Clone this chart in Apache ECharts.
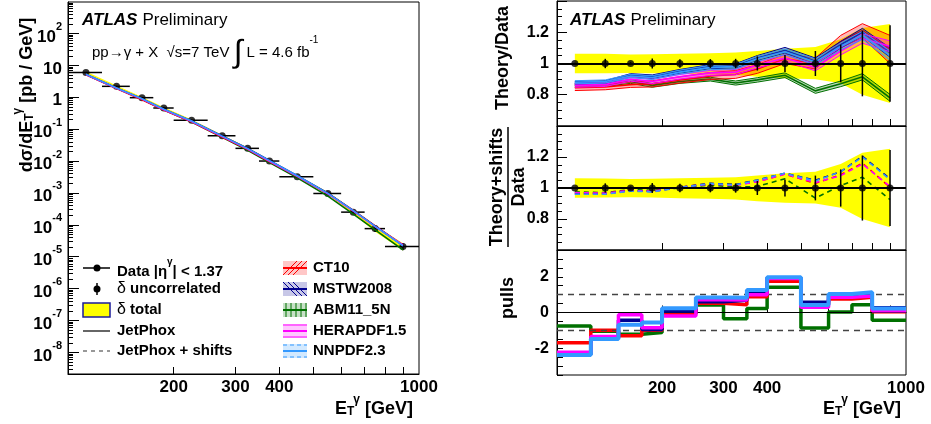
<!DOCTYPE html>
<html>
<head>
<meta charset="utf-8">
<script src="https://cdn.jsdelivr.net/npm/echarts@6/dist/echarts.min.js"></script>
<style>
  html, body { margin: 0; padding: 0; background: #fff; }
  #chart { width: 931px; height: 424px; }
</style>
</head>
<body>
<div id="chart"></div>
<script>
// E_T^gamma bins [GeV]
const binEdges = [100, 125, 150, 175, 200, 250, 300, 350, 400, 500, 600, 700, 800, 1000];
const binCenters = [112.5, 137.5, 162.5, 187.5, 225, 275, 325, 375, 450, 550, 650, 750, 900];
// measured dsigma/dET [pb/GeV]
const xsecData = [6.0, 2.2, 0.97, 0.46, 0.19, 0.062, 0.025, 0.010, 0.0032, 0.00096, 0.00025, 7.6e-5, 2.1e-5];
// relative uncertainties
const uncorrErr = [0.005, 0.03, 0.01, 0.032, 0.027, 0.028, 0.03, 0.045, 0.055, 0.08, 0.12, 0.21, 0.245];
const totalErrUp = [0.063, 0.062, 0.058, 0.06, 0.063, 0.066, 0.07, 0.08, 0.095, 0.105, 0.155, 0.228, 0.253];
const totalErrDown = [0.063, 0.062, 0.06, 0.062, 0.066, 0.07, 0.074, 0.085, 0.095, 0.1, 0.127, 0.2, 0.253];

// theory / data (JetPhox with each PDF) and PDF band half widths
const ratioCT10 = [0.845, 0.85, 0.865, 0.87, 0.895, 0.92, 0.93, 0.965, 1.03, 1.0, 1.14, 1.21, 1.09];
const ratioMSTW = [0.875, 0.88, 0.925, 0.915, 0.95, 0.98, 0.985, 1.035, 1.085, 1.015, 1.12, 1.2, 1.07];
const ratioABM = [0.86, 0.865, 0.885, 0.86, 0.885, 0.9, 0.875, 0.895, 0.925, 0.825, 0.87, 0.915, 0.78];
const ratioHERA = [0.86, 0.865, 0.9, 0.885, 0.915, 0.94, 0.945, 0.99, 1.035, 0.975, 1.08, 1.16, 1.11];
const ratioNNPDF = [0.88, 0.885, 0.92, 0.91, 0.945, 0.975, 0.98, 1.03, 1.075, 1.01, 1.11, 1.18, 1.05];
const errCT10 = [0.018, 0.018, 0.018, 0.02, 0.02, 0.022, 0.025, 0.028, 0.03, 0.035, 0.04, 0.045, 0.09];
const errMSTW = [0.01, 0.01, 0.01, 0.012, 0.012, 0.013, 0.014, 0.016, 0.018, 0.02, 0.022, 0.025, 0.03];
const errABM = [0.012, 0.012, 0.012, 0.012, 0.012, 0.012, 0.013, 0.014, 0.015, 0.016, 0.018, 0.02, 0.022];
const errHERA = [0.012, 0.012, 0.013, 0.014, 0.015, 0.016, 0.017, 0.018, 0.02, 0.022, 0.025, 0.03, 0.035];
const errNNPDF = [0.01, 0.01, 0.011, 0.012, 0.013, 0.014, 0.015, 0.016, 0.018, 0.02, 0.022, 0.026, 0.03];

// (theory + shifts) / data
const shiftCT10 = [0.968, 0.965, 0.985, 0.978, 1.005, 1.028, 1.02, 1.04, 1.09, 1.03, 1.085, 1.16, 1.005];
const shiftMSTW = [0.962, 0.962, 0.983, 0.977, 1.005, 1.03, 1.022, 1.052, 1.095, 1.05, 1.105, 1.205, 1.06];
const shiftABM = [0.975, 0.97, 0.99, 0.985, 1.0, 1.02, 1.005, 1.01, 1.06, 0.935, 1.015, 1.07, 0.925];
const shiftHERA = [0.97, 0.967, 0.985, 0.978, 1.005, 1.025, 1.018, 1.04, 1.09, 1.035, 1.08, 1.155, 1.01];
const shiftNNPDF = [0.96, 0.96, 0.98, 0.975, 1.003, 1.028, 1.02, 1.05, 1.095, 1.045, 1.105, 1.2, 1.055];

// pulls
const pullCT10 = [-1.7, -1.0, -1.3, -1.0, -0.08, 0.52, 0.43, 0.88, 1.75, 0.48, 0.75, 0.86, 0.04];
const pullMSTW = [-2.35, -1.42, -0.44, -0.95, 0.09, 0.6, 0.68, 1.1, 1.95, 0.58, 0.95, 1.04, 0.26];
const pullABM = [-0.75, -1.05, -1.22, -1.12, -0.05, 0.42, -0.35, 0.22, 1.42, -0.87, 0.03, 0.44, -0.44];
const pullHERA = [-2.22, -1.35, -0.12, -0.85, -0.19, 0.72, 0.7, 1.0, 1.9, 0.3, 0.85, 0.92, 0.1];
const pullNNPDF = [-2.38, -1.48, -0.69, -0.56, 0.24, 0.84, 0.82, 1.26, 1.98, 0.42, 1.03, 1.13, 0.22];

// axis ticks
const xLabelValues = [200, 300, 400, 1000];
const xTickValues = [200, 300, 400, 500, 600, 700, 800, 900];
const yDecades = [1e-8, 1e-7, 1e-6, 1e-5, 1e-4, 1e-3, 1e-2, 1e-1, 1, 10, 100];
const ratioLabels = [0.8, 1, 1.2];
const pullLabels = [-2, 0, 2];

const FONT = '"Liberation Sans", Arial, Helvetica, sans-serif';
const C_CT10 = '#ff0000', C_MSTW = '#000090', C_ABM = '#007000', C_HERA = '#ff00ff', C_NNPDF = '#3399ff';
const YELLOW = '#ffff00';

const pdfs = [
  { name: 'ABM11_5N', color: C_ABM, ratio: ratioABM, err: errABM, shift: shiftABM, pull: pullABM },
  { name: 'CT10', color: C_CT10, ratio: ratioCT10, err: errCT10, shift: shiftCT10, pull: pullCT10 },
  { name: 'MSTW2008', color: C_MSTW, ratio: ratioMSTW, err: errMSTW, shift: shiftMSTW, pull: pullMSTW },
  { name: 'HERAPDF1.5', color: C_HERA, ratio: ratioHERA, err: errHERA, shift: shiftHERA, pull: pullHERA },
  { name: 'NNPDF2.3', color: C_NNPDF, ratio: ratioNNPDF, err: errNNPDF, shift: shiftNNPDF, pull: pullNNPDF }
];

// minor ticks of the log y axis (2..9 x 10^n)
const yMinorTicks = [];
for (let n = -9; n <= 2; n++) {
  for (let k = 2; k <= 9; k++) yMinorTicks.push(k * Math.pow(10, n));
}

const chart = echarts.init(document.getElementById('chart'));

const gridsDef = [
  { left: 68, top: 2, width: 351, height: 372 },
  { left: 557, top: 1, width: 349, height: 125 },
  { left: 557, top: 126, width: 349, height: 124 },
  { left: 557, top: 250, width: 349, height: 125 }
];

const supRich = {
  b: { fontSize: 17, fontWeight: 'bold', fontFamily: FONT, color: '#000', lineHeight: 24, verticalAlign: 'bottom' },
  sup: { fontSize: 11, fontWeight: 'bold', fontFamily: FONT, color: '#000', lineHeight: 12, verticalAlign: 'top' }
};

function powLabel(v) {
  const n = Math.round(Math.log10(v));
  if (n === 0) return '{b|1}';
  if (n === 1) return '{b|10}';
  return '{b|10}{sup|' + n + '}';
}

function xLog(gridIndex, showLabels) {
  return {
    type: 'log', logBase: 10, gridIndex: gridIndex, min: 100, max: 1000,
    axisLine: { show: true, lineStyle: { color: '#000', width: 1 } },
    axisTick: { show: true, inside: true, length: 7, customValues: xTickValues, lineStyle: { color: '#000' } },
    axisLabel: {
      show: showLabels, customValues: xLabelValues, formatter: v => String(Math.round(v)),
      color: '#000', fontSize: 17, fontWeight: 'bold', fontFamily: FONT, margin: 5
    },
    splitLine: { show: false }
  };
}

function ratioAxis(gridIndex) {
  return {
    type: 'value', gridIndex: gridIndex, min: 0.6, max: 1.4, interval: 0.2,
    axisLine: { show: true, lineStyle: { color: '#000' } },
    axisTick: { show: true, inside: true, length: 10, lineStyle: { color: '#000' } },
    minorTick: { show: true, splitNumber: 4, length: 5, lineStyle: { color: '#000' } },
    axisLabel: { customValues: ratioLabels, color: '#000', fontSize: 16, fontWeight: 'bold', fontFamily: FONT, margin: 8 },
    splitLine: { show: false }
  };
}

// vertical error bars [x, lo, hi]
function renderErrY(params, api) {
  const x = api.value(0);
  const p1 = api.coord([x, api.value(1)]);
  const p2 = api.coord([x, api.value(2)]);
  return { type: 'line', shape: { x1: p1[0], y1: p1[1], x2: p2[0], y2: p2[1] }, style: { stroke: '#000', lineWidth: 1.5 } };
}
// horizontal bin-width bars [xlo, xhi, y]
function renderErrX(params, api) {
  const y = api.value(2);
  const p1 = api.coord([api.value(0), y]);
  const p2 = api.coord([api.value(1), y]);
  return { type: 'line', shape: { x1: p1[0], y1: p1[1], x2: p2[0], y2: p2[1] }, style: { stroke: '#000', lineWidth: 1.5 } };
}
// filled band polygon [x, lo, hi] drawn once
function makeBand(fill) {
  return function (params, api) {
    if (params.dataIndexInside !== 0) return null;
    const n = params.dataInsideLength;
    const lo = [], hi = [];
    for (let i = 0; i < n; i++) {
      const x = api.value(0, i);
      lo.push(api.coord([x, api.value(1, i)]));
      hi.push(api.coord([x, api.value(2, i)]));
    }
    return { type: 'polygon', shape: { points: lo.concat(hi.reverse()) }, style: { fill: fill, stroke: null } };
  };
}
// PDF uncertainty band [x, mid, lo, hi]: light fill + edges + central line
function makePdfBand(color) {
  return function (params, api) {
    if (params.dataIndexInside !== 0) return null;
    const n = params.dataInsideLength;
    const mid = [], lo = [], hi = [];
    for (let i = 0; i < n; i++) {
      const x = api.value(0, i);
      mid.push(api.coord([x, api.value(1, i)]));
      lo.push(api.coord([x, api.value(2, i)]));
      hi.push(api.coord([x, api.value(3, i)]));
    }
    return {
      type: 'group',
      children: [
        { type: 'polygon', shape: { points: lo.concat(hi.slice().reverse()) }, style: { fill: color, opacity: 0.28, stroke: null } },
        { type: 'polyline', shape: { points: lo }, style: { stroke: color, lineWidth: 1, fill: null } },
        { type: 'polyline', shape: { points: hi }, style: { stroke: color, lineWidth: 1, fill: null } },
        { type: 'polyline', shape: { points: mid }, style: { stroke: color, lineWidth: 1.6, fill: null } }
      ]
    };
  };
}

const series = [];

// ---- main cross-section panel ----
series.push({
  type: 'custom', xAxisIndex: 0, yAxisIndex: 0, z: 1,
  renderItem: makeBand(YELLOW),
  data: binCenters.map((c, i) => [c, xsecData[i] * (1 - totalErrDown[i]), xsecData[i] * (1 + totalErrUp[i])])
});
series.push({
  type: 'custom', xAxisIndex: 0, yAxisIndex: 0, z: 3,
  renderItem: renderErrX,
  encode: { x: [0, 1], y: 2 },
  data: binCenters.map((c, i) => [binEdges[i], binEdges[i + 1], xsecData[i]])
});
series.push({
  type: 'custom', xAxisIndex: 0, yAxisIndex: 0, z: 3,
  renderItem: renderErrY,
  encode: { x: 0, y: [1, 2] },
  data: binCenters.map((c, i) => [c, xsecData[i] * (1 - uncorrErr[i]), xsecData[i] * (1 + uncorrErr[i])])
});
series.push({
  type: 'scatter', name: 'Data', xAxisIndex: 0, yAxisIndex: 0, z: 4,
  symbol: 'circle', symbolSize: 7, itemStyle: { color: '#000' },
  data: binCenters.map((c, i) => [c, xsecData[i]])
});
pdfs.forEach(p => {
  series.push({
    type: 'line', name: p.name, xAxisIndex: 0, yAxisIndex: 0, z: 5,
    showSymbol: false, lineStyle: { color: p.color, width: 1.6 },
    data: binCenters.map((c, i) => [c, xsecData[i] * p.ratio[i]])
  });
});

// ---- theory / data panel ----
series.push({
  type: 'custom', xAxisIndex: 1, yAxisIndex: 2, z: 1,
  renderItem: makeBand(YELLOW),
  data: binCenters.map((c, i) => [c, 1 - totalErrDown[i], 1 + totalErrUp[i]])
});
pdfs.forEach(p => {
  series.push({
    type: 'custom', name: p.name + ' band', xAxisIndex: 1, yAxisIndex: 2, z: 2,
    renderItem: makePdfBand(p.color),
    data: binCenters.map((c, i) => [c, p.ratio[i], p.ratio[i] - p.err[i], p.ratio[i] + p.err[i]])
  });
});
[[1, 2], [2, 3]].forEach(([xi, yi]) => {
  series.push({
    type: 'custom', xAxisIndex: xi, yAxisIndex: yi, z: 4,
    renderItem: renderErrY,
    encode: { x: 0, y: [1, 2] },
    data: binCenters.map((c, i) => [c, 1 - uncorrErr[i], 1 + uncorrErr[i]])
  });
  series.push({
    type: 'scatter', xAxisIndex: xi, yAxisIndex: yi, z: 5,
    symbol: 'circle', symbolSize: 7, itemStyle: { color: '#000' },
    data: binCenters.map(c => [c, 1]),
    markLine: {
      silent: true, symbol: ['none', 'none'], label: { show: false },
      lineStyle: { color: '#000', width: 2.2, type: 'solid' },
      data: [{ yAxis: 1 }]
    }
  });
});

// ---- theory + shifts / data panel ----
series.push({
  type: 'custom', xAxisIndex: 2, yAxisIndex: 3, z: 1,
  renderItem: makeBand(YELLOW),
  data: binCenters.map((c, i) => [c, 1 - totalErrDown[i], 1 + totalErrUp[i]])
});
pdfs.forEach(p => {
  series.push({
    type: 'line', name: p.name + ' shifts', xAxisIndex: 2, yAxisIndex: 3, z: 3,
    showSymbol: false, lineStyle: { color: p.color, width: 1.6, type: [5, 4] },
    data: binCenters.map((c, i) => [c, p.shift[i]])
  });
});

// ---- pulls panel ----
pdfs.forEach((p, k) => {
  const pts = binCenters.map((c, i) => [binEdges[i], p.pull[i]]);
  pts.push([binEdges[binEdges.length - 1], p.pull[p.pull.length - 1]]);
  const s = {
    type: 'line', name: p.name + ' pulls', xAxisIndex: 3, yAxisIndex: 4, z: 3 + k,
    step: 'end', showSymbol: false,
    lineStyle: { color: p.color, width: k === 4 ? 4 : 3.5 },
    data: pts
  };
  if (k === 0) {
    s.markLine = {
      silent: true, symbol: ['none', 'none'], label: { show: false },
      data: [
        { yAxis: 0, lineStyle: { color: '#000', width: 1, type: 'solid' } },
        { yAxis: 1, lineStyle: { color: '#444', width: 1.3, type: [6, 5] } },
        { yAxis: -1, lineStyle: { color: '#444', width: 1.3, type: [6, 5] } }
      ]
    };
  }
  series.push(s);
});

// ---- texts & legend ----
const richBase = {
  b: { fontSize: 18, fontWeight: 'bold', fontFamily: FONT, fill: '#000', lineHeight: 24, verticalAlign: 'bottom' },
  sub: { fontSize: 12, fontWeight: 'bold', fontFamily: FONT, fill: '#000', lineHeight: 12, verticalAlign: 'bottom' },
  sup: { fontSize: 12, fontWeight: 'bold', fontFamily: FONT, fill: '#000', lineHeight: 14, verticalAlign: 'top', padding: [0, 0, 0, -1] }
};
const atlasRich = {
  a: { fontSize: 17, fontWeight: 'bold', fontStyle: 'italic', fontFamily: FONT, fill: '#000' },
  p: { fontSize: 17, fontFamily: FONT, fill: '#000', padding: [0, 0, 0, 5] }
};

function rtext(x, y, text, rich, extra) {
  return Object.assign({
    type: 'text', x: x, y: y, silent: true,
    style: { text: text, rich: rich, align: 'left', verticalAlign: 'middle', fill: '#000' }
  }, extra || {});
}
function ptext(x, y, text, font, extra) {
  return Object.assign({
    type: 'text', x: x, y: y, silent: true,
    style: { text: text, font: font, align: 'left', verticalAlign: 'middle', fill: '#000' }
  }, extra || {});
}
function vtext(x, y, text, size) {
  return {
    type: 'text', x: x, y: y, silent: true, rotation: Math.PI / 2,
    style: { text: text, font: 'bold ' + size + 'px ' + FONT, align: 'center', verticalAlign: 'middle', fill: '#000' }
  };
}

const legFont = 'bold 15px ' + FONT;
const legRows = [268, 289, 310, 331, 351];
const graphic = [];

// atlas labels
graphic.push(rtext(82, 20, '{a|ATLAS}{p|Preliminary}', atlasRich));
graphic.push(rtext(570, 20, '{a|ATLAS}{p|Preliminary}', atlasRich));
graphic.push(rtext(92, 53, '{n|pp→γ + X  √s=7 TeV }{i|∫}{n| L = 4.6 fb}{s|-1}', {
  n: { fontSize: 15, fontFamily: FONT, fill: '#000', lineHeight: 36, verticalAlign: 'middle' },
  i: { fontSize: 32, fontFamily: FONT, fill: '#000', lineHeight: 36, verticalAlign: 'middle' },
  s: { fontSize: 10, fontFamily: FONT, fill: '#000', lineHeight: 22, verticalAlign: 'top' }
}));

// axis titles
graphic.push({
  type: 'text', x: 24, y: 95, silent: true, rotation: Math.PI / 2,
  style: { text: '{b|dσ/dE}{sub|T}{sup|γ}{b| [pb / GeV]}', rich: richBase, align: 'center', verticalAlign: 'middle', fill: '#000' }
});
graphic.push(rtext(335, 406, '{b|E}{sub|T}{sup|γ}{b| [GeV]}', richBase));
graphic.push(rtext(823, 406, '{b|E}{sub|T}{sup|γ}{b| [GeV]}', richBase));
graphic.push(vtext(503, 58, 'Theory/Data', 18));
graphic.push(vtext(497, 187, 'Theory+shifts', 18));
graphic.push(vtext(519, 187, 'Data', 18));
graphic.push({ type: 'line', silent: true, shape: { x1: 508, y1: 127, x2: 508, y2: 247 }, style: { stroke: '#000', lineWidth: 1.5 } });
graphic.push(vtext(508, 298, 'pulls', 18));

// legend, left column
graphic.push({ type: 'line', silent: true, shape: { x1: 83, y1: legRows[0], x2: 110, y2: legRows[0] }, style: { stroke: '#000', lineWidth: 1.5 } });
graphic.push({ type: 'circle', silent: true, shape: { cx: 97, cy: legRows[0], r: 3.5 }, style: { fill: '#000' } });
graphic.push({ type: 'line', silent: true, shape: { x1: 97, y1: legRows[1] - 6, x2: 97, y2: legRows[1] + 6 }, style: { stroke: '#000', lineWidth: 1.5 } });
graphic.push({ type: 'circle', silent: true, shape: { cx: 97, cy: legRows[1], r: 3.5 }, style: { fill: '#000' } });
graphic.push({ type: 'rect', silent: true, shape: { x: 83, y: legRows[2] - 7, width: 27, height: 14 }, style: { fill: YELLOW, stroke: '#1c1c9c', lineWidth: 1.5 } });
graphic.push({ type: 'line', silent: true, shape: { x1: 83, y1: legRows[3], x2: 110, y2: legRows[3] }, style: { stroke: '#000', lineWidth: 1.2 } });
graphic.push({ type: 'line', silent: true, shape: { x1: 83, y1: legRows[4], x2: 110, y2: legRows[4] }, style: { stroke: '#333', lineWidth: 1.2, lineDash: [4, 4] } });
graphic.push(rtext(117, legRows[0], '{t|Data |η}{s|γ}{t|| < 1.37}', {
  t: { fontSize: 15, fontWeight: 'bold', fontFamily: FONT, fill: '#000', lineHeight: 22, verticalAlign: 'bottom' },
  s: { fontSize: 10, fontWeight: 'bold', fontFamily: FONT, fill: '#000', lineHeight: 10, verticalAlign: 'top' }
}));
graphic.push(rtext(117, legRows[1], '{g|δ}{t| uncorrelated}', {
  g: { fontSize: 16, fontFamily: FONT, fill: '#000' },
  t: { fontSize: 15, fontWeight: 'bold', fontFamily: FONT, fill: '#000' }
}));
graphic.push(rtext(117, legRows[2], '{g|δ}{t| total}', {
  g: { fontSize: 16, fontFamily: FONT, fill: '#000' },
  t: { fontSize: 15, fontWeight: 'bold', fontFamily: FONT, fill: '#000' }
}));
graphic.push(ptext(117, legRows[3], 'JetPhox', legFont));
graphic.push(ptext(117, legRows[4], 'JetPhox + shifts', legFont));

// legend, right column (PDF boxes)
const legPdfOrder = ['CT10', 'MSTW2008', 'ABM11_5N', 'HERAPDF1.5', 'NNPDF2.3'];
const hatchKind = { 'CT10': '/', 'MSTW2008': '\\', 'ABM11_5N': '|', 'HERAPDF1.5': '-', 'NNPDF2.3': '~' };
legPdfOrder.forEach((name, r) => {
  const p = pdfs.find(q => q.name === name);
  const y = legRows[r], x0 = 283, w = 24, h = 14, top = y - h / 2;
  graphic.push({ type: 'rect', silent: true, shape: { x: x0, y: top, width: w, height: h }, style: { fill: p.color, opacity: 0.22 } });
  const kind = hatchKind[name];
  const segs = [];
  if (kind === '/' || kind === '\\') {
    [0, 5, 10].forEach(k => {
      if (kind === '/') segs.push([x0 + k, top + h, x0 + k + h, top]);
      else segs.push([x0 + k, top, x0 + k + h, top + h]);
    });
  } else if (kind === '|') {
    [3, 8, 13, 18, 23].forEach(k => segs.push([x0 + k, top, x0 + k, top + h]));
  } else {
    segs.push([x0, top + 1, x0 + w, top + 1]);
    segs.push([x0, top + h - 1, x0 + w, top + h - 1]);
  }
  segs.forEach(s => graphic.push({
    type: 'line', silent: true, shape: { x1: s[0], y1: s[1], x2: s[2], y2: s[3] },
    style: { stroke: p.color, lineWidth: 1, lineDash: kind === '~' ? [4, 3] : null }
  }));
  graphic.push({ type: 'line', silent: true, shape: { x1: x0, y1: y, x2: x0 + w, y2: y }, style: { stroke: p.color, lineWidth: 2 } });
  graphic.push(ptext(313, y, name, legFont));
});

const option = {
  animation: false,
  backgroundColor: '#fff',
  textStyle: { fontFamily: FONT },
  grid: gridsDef.map(g => Object.assign({ show: true, borderColor: '#000', borderWidth: 1, backgroundColor: 'transparent' }, g)),
  xAxis: [xLog(0, true), xLog(1, false), xLog(2, false), xLog(3, true)],
  yAxis: [
    {
      type: 'log', logBase: 10, gridIndex: 0, min: 2.1e-9, max: 970,
      axisLine: { show: true, lineStyle: { color: '#000' } },
      axisTick: { show: true, inside: true, length: 11, customValues: yDecades, lineStyle: { color: '#000' } },
      axisLabel: { customValues: yDecades, formatter: powLabel, rich: supRich, margin: 6 },
      splitLine: { show: false }
    },
    {
      type: 'log', logBase: 10, gridIndex: 0, min: 2.1e-9, max: 970, position: 'left',
      axisLine: { show: false },
      axisTick: { show: true, inside: true, length: 5, customValues: yMinorTicks, lineStyle: { color: '#000' } },
      axisLabel: { show: false },
      splitLine: { show: false }
    },
    ratioAxis(1),
    ratioAxis(2),
    {
      type: 'value', gridIndex: 3, min: -3.5, max: 3.5, interval: 0.5,
      axisLine: { show: true, lineStyle: { color: '#000' } },
      axisTick: { show: true, inside: true, length: 6, lineStyle: { color: '#000' } },
      axisLabel: { customValues: pullLabels, color: '#000', fontSize: 16, fontWeight: 'bold', fontFamily: FONT, margin: 8 },
      splitLine: { show: false }
    }
  ],
  series: series,
  graphic: graphic
};

chart.setOption(option);
</script>
</body>
</html>
